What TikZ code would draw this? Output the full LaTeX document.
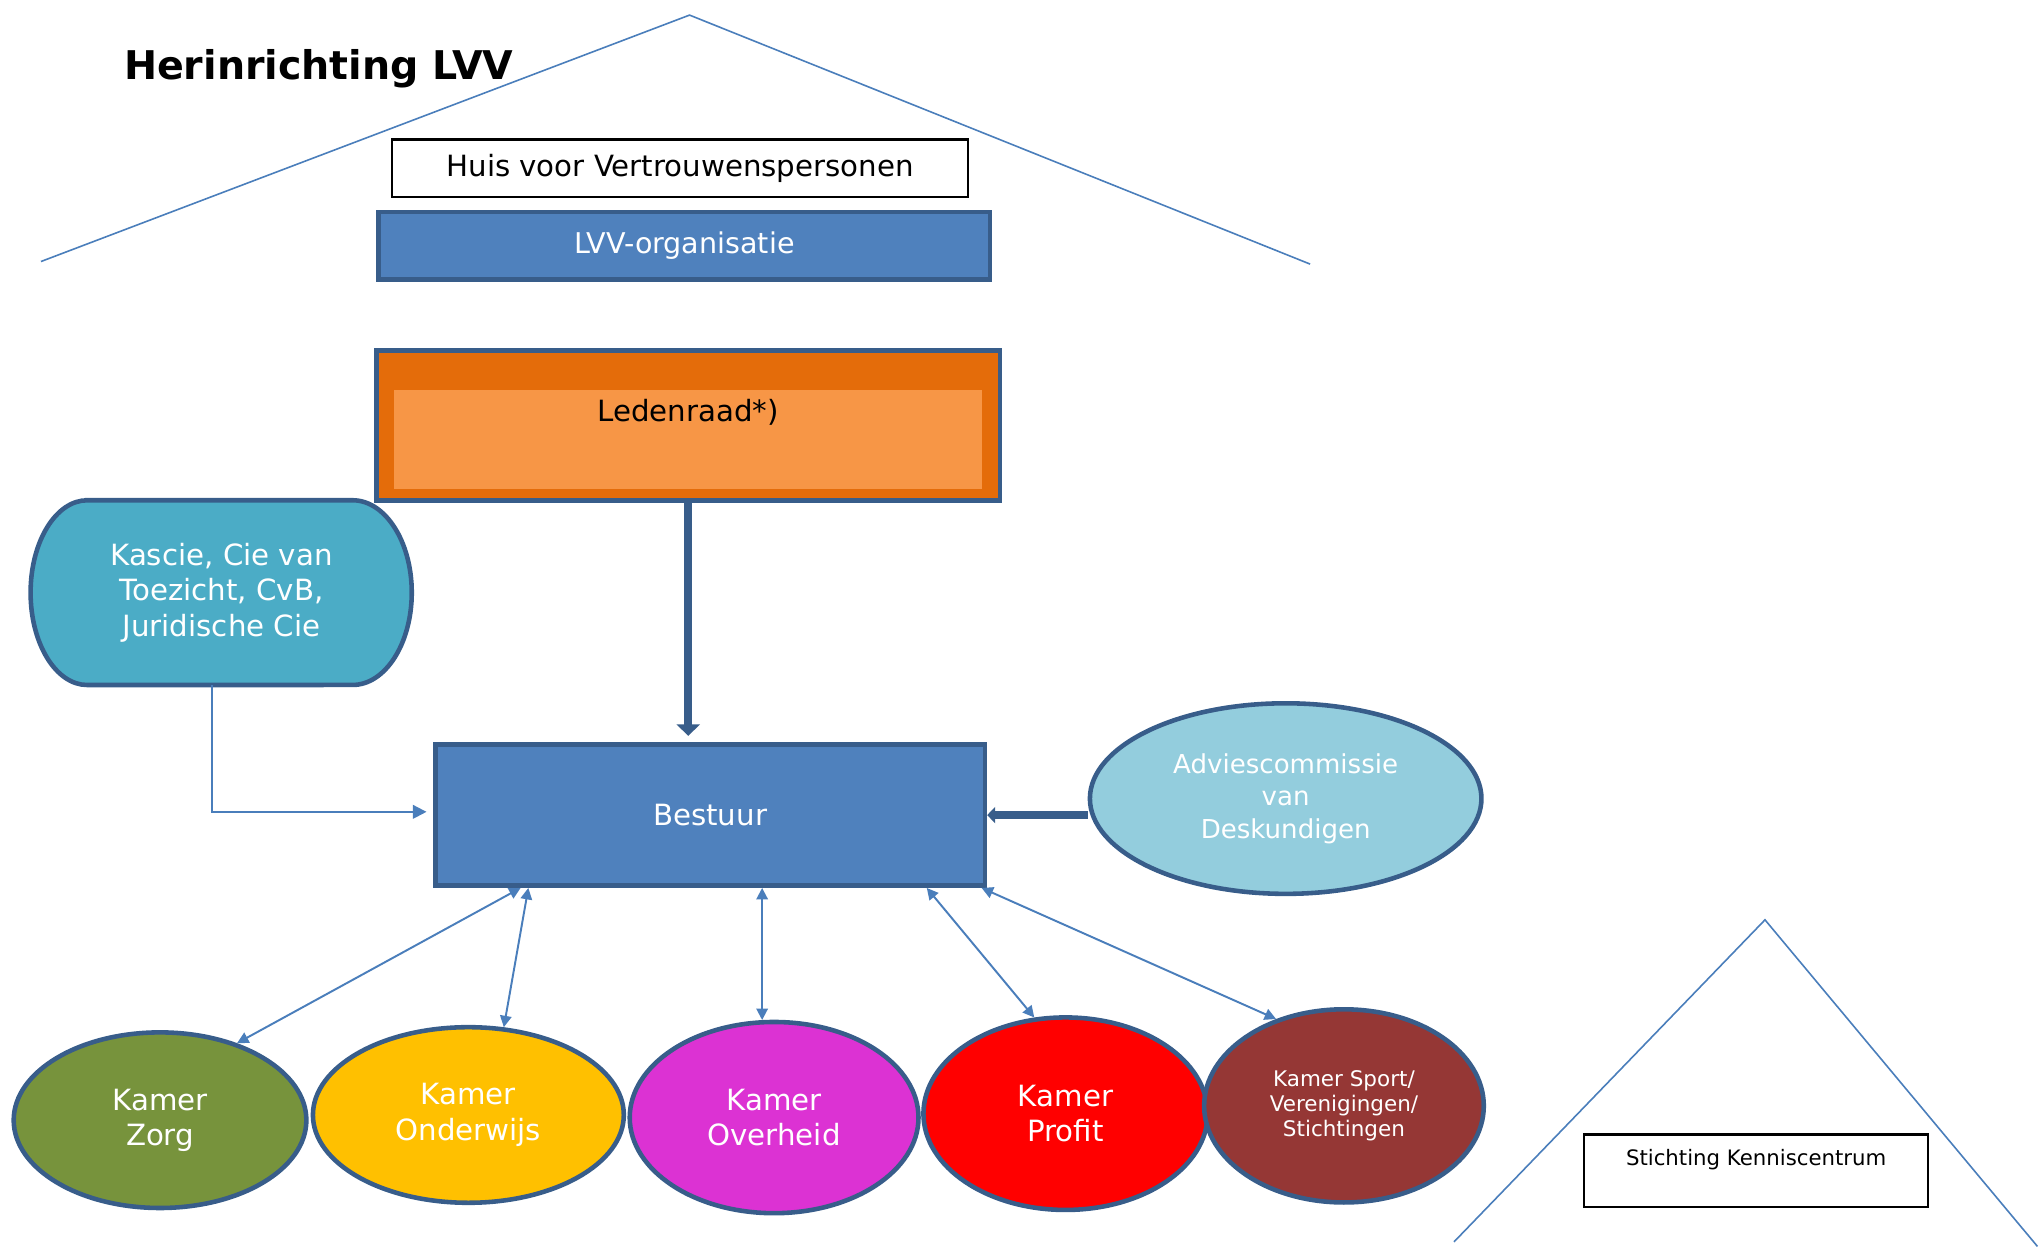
\documentclass[tikz,border=0pt]{standalone}
\usepackage{fontspec}
\setmainfont{DejaVu Sans}
\usepackage{tikz}
\usetikzlibrary{arrows.meta,shapes.geometric,calc}
\definecolor{lvvblauw}{HTML}{4F81BD}
\definecolor{randblauw}{HTML}{385D8A}
\definecolor{lijnblauw}{HTML}{4A7EBB}
\definecolor{ledendonker}{HTML}{E46C0A}
\definecolor{ledenlicht}{HTML}{F79646}
\definecolor{kasblauw}{HTML}{4BACC6}
\definecolor{adviesblauw}{HTML}{93CDDD}
\definecolor{zorggroen}{HTML}{77933C}
\definecolor{onderwijsgeel}{HTML}{FFC000}
\definecolor{overheidpaars}{HTML}{DC32D3}
\definecolor{profitrood}{HTML}{FF0000}
\definecolor{sportbruin}{HTML}{953735}
\tikzset{
  tekst/.style={font=\fontsize{12.8}{15.5}\selectfont},
  blok/.style={draw=randblauw,line width=2pt,fill=lvvblauw,text=white,tekst},
  bol/.style={ellipse,draw=randblauw,line width=2pt,text=white,align=center,inner sep=0pt,tekst},
  kader/.style={draw=black,line width=1pt},
  dun/.style={draw=lijnblauw,line width=0.85pt},
  pijl/.style={dun,-{Triangle[length=6pt,width=6pt]}},
  dubbel/.style={dun,{Triangle[length=5pt,width=5pt]}-{Triangle[length=5pt,width=5pt]}},
  dik/.style={draw=randblauw,line width=3.7pt},
  dak/.style={draw=lijnblauw,line width=0.7pt}
}
\newcommand{\kamer}[7][]{\node[bol,fill=#6,minimum width=#4,minimum height=#5,#1] (#2) at (#3) {#7};}
\begin{document}
\begin{tikzpicture}[x=0.02cm,y=-0.02cm]
\useasboundingbox (0,0) rectangle (1568,960);
\draw[dak] (31.5,201) -- (530,11.6) -- (1007,203);
\draw[dak] (1117.6,954.5) -- (1356.6,707) -- (1566,958);
\node[anchor=base west,inner sep=0pt,font=\bfseries\fontsize{17.3}{20}\selectfont] (titel) at (95,61.2) {Herinrichting LVV};
\node[kader,tekst,minimum width=8.85cm,minimum height=0.88cm] (huis) at (522.75,129.2) {Huis voor Vertrouwenspersonen};
\node[blok,minimum width=9.4cm,minimum height=1.04cm,font=\fontsize{12.5}{15}\selectfont] (lvv) at (526,189) {LVV-organisatie};
\node[blok,fill=ledendonker,minimum width=9.58cm,minimum height=2.3cm] (leden) at (529,327) {};
\node[fill=ledenlicht,minimum width=9.04cm,minimum height=1.52cm,label={[tekst,anchor=north,inner sep=4pt]north:Ledenraad*)}] (ledenin) at (529,338) {};
\filldraw[draw=randblauw,fill=kasblauw,line width=2pt] (67,384.5) -- (271,384.5) arc[start angle=90,end angle=-90,x radius=0.91cm,y radius=1.42cm] -- (67,526.5) arc[start angle=270,end angle=90,x radius=0.87cm,y radius=1.42cm] -- cycle;
\node[text=white,align=center,tekst,minimum width=5.89cm,minimum height=2.84cm] (kascie) at (170.25,455.5) {Kascie, Cie van\\Toezicht, CvB,\\Juridische Cie};
\node[blok,minimum width=8.45cm,minimum height=2.17cm] (bestuur) at (545.8,626.5) {Bestuur};
\node[bol,fill=adviesblauw,minimum width=6.02cm,minimum height=2.93cm,font=\fontsize{11.4}{14.2}\selectfont] (advies) at (988.2,613.8) {Adviescommissie\\van\\Deskundigen};
\kamer{zorg}{123,861}{4.5cm}{2.7cm}{zorggroen}{Kamer\\Zorg}
\kamer{onderwijs}{360,857}{4.78cm}{2.7cm}{onderwijsgeel}{Kamer\\Onderwijs}
\kamer{overheid}{595,859}{4.44cm}{2.94cm}{overheidpaars}{Kamer\\Overheid}
\kamer{profit}{819,856}{4.37cm}{2.96cm}{profitrood}{Kamer\\Profit}
\kamer[font=\fontsize{9.4}{11}\selectfont]{sport}{1033,850}{4.3cm}{2.97cm}{sportbruin}{Kamer Sport/\\Verenigingen/\\Stichtingen}
\node[kader,minimum width=5.29cm,minimum height=1.11cm,label={[anchor=north,inner sep=7pt,font=\fontsize{9.3}{11}\selectfont]north:Stichting Kenniscentrum}] (stichting) at (1349.8,899.75) {};
\draw[dik,-{Triangle[length=5pt,width=10pt]},shorten >=2.8pt] (leden.south) -- (leden.south |- bestuur.north);
\draw[dik,-{Triangle[length=3.5pt,width=7pt]}] (advies.west |- bestuur.east) -- (bestuur.east);
\draw[pijl] ($(kascie.south)+(-7,0)$) |- ($(bestuur.west)+(-5,-2.5)$);
\draw[dubbel] ($(bestuur.south west)!0.158!(bestuur.south east)$) -- (zorg.45);
\draw[dubbel] ($(bestuur.south west)!0.172!(bestuur.south east)$) -- (onderwijs.68);
\draw[dubbel] (overheid.97 |- bestuur.south) -- (overheid.97);
\draw[dubbel] ($(bestuur.south west)!0.891!(bestuur.south east)$) -- (profit.108);
\draw[dubbel] ($(bestuur.south west)!0.99!(bestuur.south east)$) -- (sport.128);
\end{tikzpicture}
\end{document}
